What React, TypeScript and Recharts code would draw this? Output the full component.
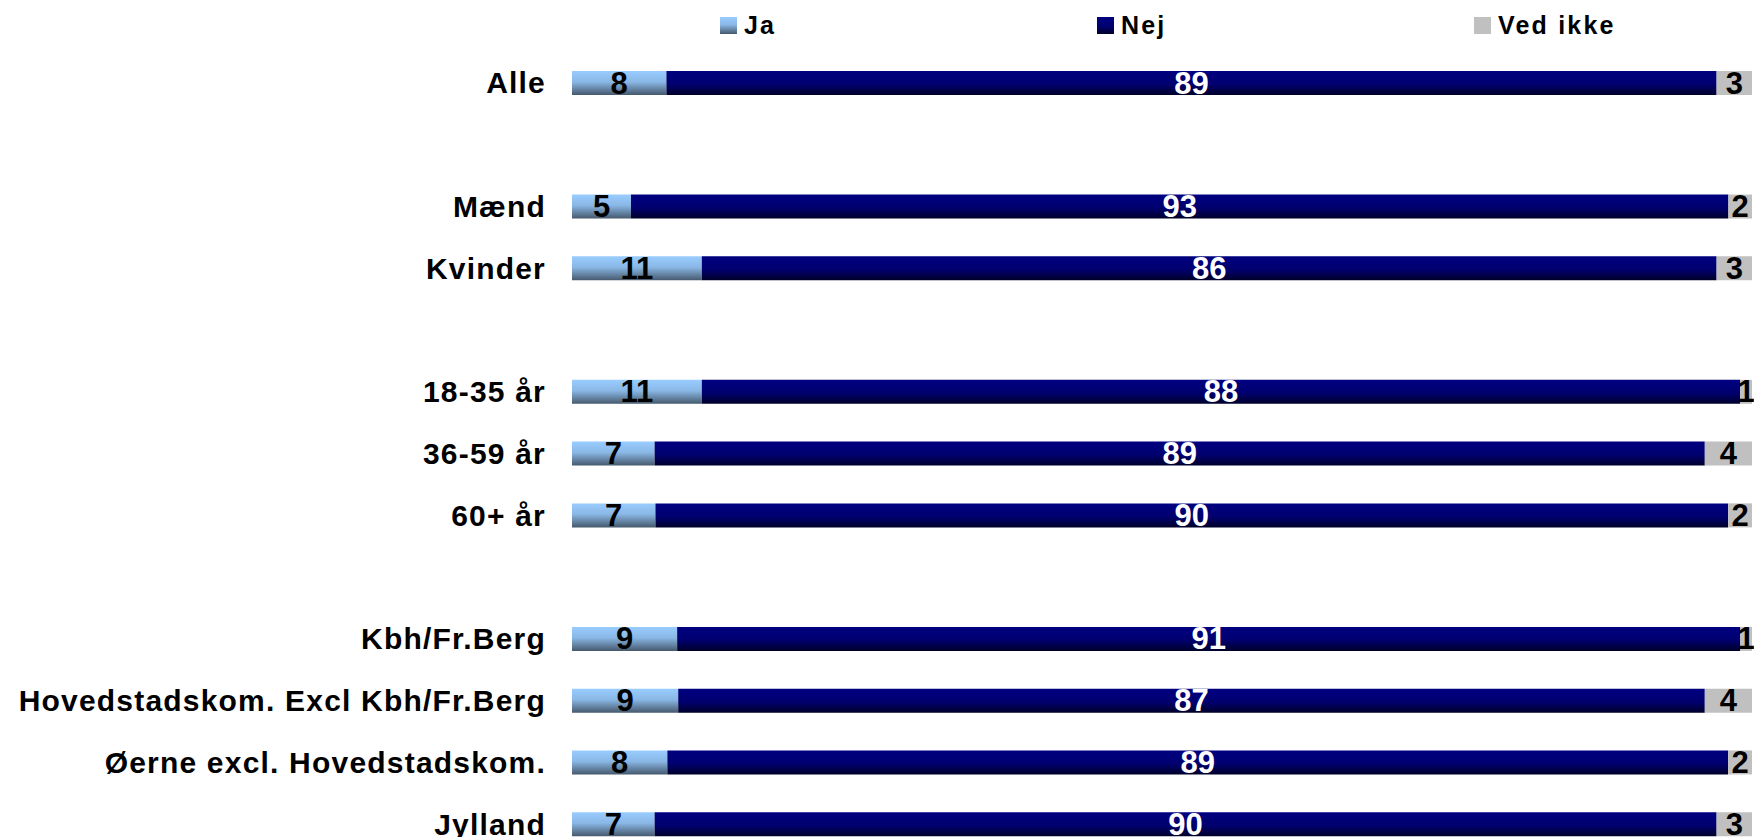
import { Bar, BarChart, LabelList, XAxis, YAxis } from 'recharts';

// rows incl. blank spacer rows between the groups
const categories = [
  'Alle',
  '',
  'Mænd',
  'Kvinder',
  ' ',
  '18-35 år',
  '36-59 år',
  '60+ år',
  '  ',
  'Kbh/Fr.Berg',
  'Hovedstadskom. Excl Kbh/Fr.Berg',
  'Øerne excl. Hovedstadskom.',
  'Jylland',
];

const jaValues = [8, null, 5, 11, null, 11, 7, 7, null, 9, 9, 8, 7];
const nejValues = [89, null, 93, 86, null, 88, 89, 90, null, 91, 87, 89, 90];
const vedIkkeValues = [3, null, 2, 3, null, 1, 4, 2, null, 1, 4, 2, 3];

const FONT = '"Liberation Sans", Arial, sans-serif';

const data = categories.map((name, i) => ({
  name,
  ja: jaValues[i],
  nej: nejValues[i],
  vedIkke: vedIkkeValues[i],
}));

const legendItems = [
  { label: 'Ja', swatch: 'linear-gradient(#99ccff, #8ab8e6 45%, #46596d)' },
  { label: 'Nej', swatch: 'linear-gradient(#000080, #000070 55%, #00002a)' },
  { label: 'Ved ikke', swatch: '#c0c0c0' },
];

const CategoryTick = ({ x, y, payload }: any) => (
  <text
    x={x}
    y={y}
    textAnchor="end"
    dominantBaseline="central"
    fill="#000"
    fontSize={30}
    fontWeight={700}
    fontFamily={FONT}
    letterSpacing={1.2}
  >
    {payload.value}
  </text>
);

const makeLabel = (color: string) => (props: any) => {
  const { x, y, width, height, value } = props;
  if (value === null || value === undefined) return null;
  return (
    <text
      x={Number(x) + Number(width) / 2}
      y={Number(y) + Number(height) / 2}
      textAnchor="middle"
      dominantBaseline="central"
      fill={color}
      fontSize={31}
      fontWeight={700}
      fontFamily={FONT}
    >
      {value}
    </text>
  );
};

const App = () => {
  return (
    <div style={{ position: 'absolute', top: 0, left: 0, width: 1754, height: 837, overflow: 'hidden', background: '#fff' }}>
      <div
        style={{
          position: 'absolute',
          top: 16,
          left: 720,
          display: 'flex',
          fontFamily: FONT,
          zIndex: 2,
        }}
      >
        {legendItems.map((item) => (
          <div key={item.label} style={{ width: 377, display: 'flex', alignItems: 'center', height: 18 }}>
            <span style={{ width: 17, height: 17, background: item.swatch, marginRight: 7, display: 'inline-block' }} />
            <span style={{ fontSize: 25, fontWeight: 700, letterSpacing: 2.2, lineHeight: '18px', color: '#000' }}>
              {item.label}
            </span>
          </div>
        ))}
      </div>
      <BarChart
        width={1754}
        height={870}
        data={data}
        layout="vertical"
        stackOffset="expand"
        barSize={24}
        margin={{ top: 52, right: 2, bottom: 15, left: 0 }}
      >
        <defs>
          <linearGradient id="gradJa" x1="0" y1="0" x2="0" y2="1">
            <stop offset="0%" stopColor="#99ccff" />
            <stop offset="45%" stopColor="#8ab8e6" />
            <stop offset="100%" stopColor="#46596d" />
          </linearGradient>
          <linearGradient id="gradNej" x1="0" y1="0" x2="0" y2="1">
            <stop offset="0%" stopColor="#000080" />
            <stop offset="55%" stopColor="#000070" />
            <stop offset="100%" stopColor="#00002a" />
          </linearGradient>
        </defs>
        <XAxis type="number" domain={[0, 1]} hide />
        <YAxis
          type="category"
          dataKey="name"
          width={572}
          axisLine={false}
          tickLine={false}
          tickSize={0}
          tickMargin={26}
          interval={0}
          tick={<CategoryTick />}
        />
        <Bar dataKey="ja" stackId="a" fill="url(#gradJa)" isAnimationActive={false}>
          <LabelList dataKey="ja" content={makeLabel('#000')} />
        </Bar>
        <Bar dataKey="nej" stackId="a" fill="url(#gradNej)" isAnimationActive={false}>
          <LabelList dataKey="nej" content={makeLabel('#fff')} />
        </Bar>
        <Bar dataKey="vedIkke" stackId="a" fill="#c0c0c0" isAnimationActive={false}>
          <LabelList dataKey="vedIkke" content={makeLabel('#000')} />
        </Bar>
      </BarChart>
    </div>
  );
};

export default App;
